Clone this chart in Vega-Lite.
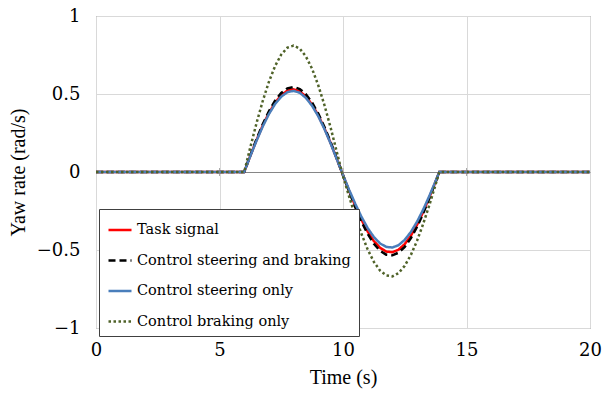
{
  "$schema": "https://vega.github.io/schema/vega-lite/v6.json",
  "width": 494,
  "height": 312,
  "autosize": {"type": "none"},
  "padding": {"left": 96, "top": 16, "right": 13, "bottom": 69},
  "config": {
    "font": "Liberation Serif",
    "view": {"stroke": "#6d6d6d", "strokeWidth": 1},
    "legend": {
      "orient": "none",
      "legendX": 3,
      "legendY": 193,
      "strokeColor": "#404040",
      "fillColor": "#ffffff",
      "padding": 8,
      "labelFontSize": 14.5,
      "labelColor": "#000000",
      "labelFont": "DejaVu Serif",
      "symbolType": "stroke",
      "symbolSize": 529,
      "symbolStrokeWidth": 2.5,
      "rowPadding": 10.5,
      "labelOffset": 4,
      "labelLimit": 400
    }
  },
  "layer": [
    {
      "data": {
        "values": [
          {"t": 0, "Task signal": 0, "Control steering and braking": 0, "Control steering only": 0, "Control braking only": 0},
          {"t": 6, "Task signal": 0, "Control steering and braking": 0, "Control steering only": 0, "Control braking only": 0},
          {"t": 6.25, "Task signal": 0.105, "Control steering and braking": 0.108, "Control steering only": 0.103, "Control braking only": 0.16},
          {"t": 6.5, "Task signal": 0.205, "Control steering and braking": 0.211, "Control steering only": 0.201, "Control braking only": 0.314},
          {"t": 6.75, "Task signal": 0.298, "Control steering and braking": 0.306, "Control steering only": 0.292, "Control braking only": 0.455},
          {"t": 7, "Task signal": 0.378, "Control steering and braking": 0.389, "Control steering only": 0.371, "Control braking only": 0.578},
          {"t": 7.25, "Task signal": 0.444, "Control steering and braking": 0.457, "Control steering only": 0.436, "Control braking only": 0.679},
          {"t": 7.5, "Task signal": 0.493, "Control steering and braking": 0.507, "Control steering only": 0.483, "Control braking only": 0.753},
          {"t": 7.75, "Task signal": 0.522, "Control steering and braking": 0.536, "Control steering only": 0.512, "Control braking only": 0.797},
          {"t": 8, "Task signal": 0.53, "Control steering and braking": 0.545, "Control steering only": 0.52, "Control braking only": 0.81},
          {"t": 8.25, "Task signal": 0.517, "Control steering and braking": 0.532, "Control steering only": 0.508, "Control braking only": 0.791},
          {"t": 8.5, "Task signal": 0.484, "Control steering and braking": 0.498, "Control steering only": 0.475, "Control braking only": 0.74},
          {"t": 8.75, "Task signal": 0.432, "Control steering and braking": 0.445, "Control steering only": 0.424, "Control braking only": 0.661},
          {"t": 9, "Task signal": 0.363, "Control steering and braking": 0.374, "Control steering only": 0.357, "Control braking only": 0.555},
          {"t": 9.25, "Task signal": 0.28, "Control steering and braking": 0.288, "Control steering only": 0.275, "Control braking only": 0.428},
          {"t": 9.5, "Task signal": 0.186, "Control steering and braking": 0.191, "Control steering only": 0.182, "Control braking only": 0.284},
          {"t": 9.75, "Task signal": 0.084, "Control steering and braking": 0.086, "Control steering only": 0.082, "Control braking only": 0.128},
          {"t": 10, "Task signal": -0.02, "Control steering and braking": -0.021, "Control steering only": -0.019, "Control braking only": -0.027},
          {"t": 10.25, "Task signal": -0.122, "Control steering and braking": -0.126, "Control steering only": -0.115, "Control braking only": -0.158},
          {"t": 10.5, "Task signal": -0.218, "Control steering and braking": -0.227, "Control steering only": -0.205, "Control braking only": -0.284},
          {"t": 10.75, "Task signal": -0.306, "Control steering and braking": -0.318, "Control steering only": -0.288, "Control braking only": -0.398},
          {"t": 11, "Task signal": -0.382, "Control steering and braking": -0.397, "Control steering only": -0.36, "Control braking only": -0.497},
          {"t": 11.25, "Task signal": -0.443, "Control steering and braking": -0.46, "Control steering only": -0.417, "Control braking only": -0.576},
          {"t": 11.5, "Task signal": -0.486, "Control steering and braking": -0.505, "Control steering only": -0.458, "Control braking only": -0.632},
          {"t": 11.75, "Task signal": -0.51, "Control steering and braking": -0.53, "Control steering only": -0.48, "Control braking only": -0.663},
          {"t": 12, "Task signal": -0.514, "Control steering and braking": -0.534, "Control steering only": -0.484, "Control braking only": -0.669},
          {"t": 12.25, "Task signal": -0.498, "Control steering and braking": -0.517, "Control steering only": -0.469, "Control braking only": -0.648},
          {"t": 12.5, "Task signal": -0.462, "Control steering and braking": -0.48, "Control steering only": -0.435, "Control braking only": -0.601},
          {"t": 12.75, "Task signal": -0.408, "Control steering and braking": -0.424, "Control steering only": -0.384, "Control braking only": -0.531},
          {"t": 13, "Task signal": -0.338, "Control steering and braking": -0.351, "Control steering only": -0.318, "Control braking only": -0.44},
          {"t": 13.25, "Task signal": -0.255, "Control steering and braking": -0.264, "Control steering only": -0.24, "Control braking only": -0.331},
          {"t": 13.5, "Task signal": -0.161, "Control steering and braking": -0.167, "Control steering only": -0.152, "Control braking only": -0.21},
          {"t": 13.75, "Task signal": -0.061, "Control steering and braking": -0.064, "Control steering only": -0.058, "Control braking only": -0.08},
          {"t": 13.9, "Task signal": 0, "Control steering and braking": 0, "Control steering only": 0, "Control braking only": 0},
          {"t": 20, "Task signal": 0, "Control steering and braking": 0, "Control steering only": 0, "Control braking only": 0}
        ]
      },
      "transform": [
        {"fold": ["Task signal", "Control steering and braking", "Control steering only", "Control braking only"], "as": ["series", "y"]}
      ],
      "mark": {"type": "line", "strokeWidth": 2.5, "clip": true},
      "encoding": {
        "x": {
          "field": "t", "type": "quantitative",
          "scale": {"domain": [0, 20], "nice": false},
          "axis": {
            "title": "Time (s)",
            "values": [0, 5, 10, 15, 20],
            "grid": true, "gridColor": "#d9d9d9",
            "domain": false, "ticks": false,
            "labelFont": "DejaVu Serif",
            "labelFontSize": 18, "labelColor": "#000000", "labelPadding": 13,
            "labelFlush": false, "labelOverlap": false,
            "titleFontSize": 20, "titleFontWeight": "normal", "titleColor": "#000000", "titlePadding": 8
          }
        },
        "y": {
          "field": "y", "type": "quantitative",
          "scale": {"domain": [-1, 1], "nice": false},
          "axis": {
            "title": "Yaw rate (rad/s)",
            "values": [-1, -0.5, 0, 0.5, 1],
            "format": "~g",
            "grid": true,
            "gridColor": {"condition": {"test": "datum.value === 0", "value": "#868686"}, "value": "#d9d9d9"},
            "domain": false, "ticks": false,
            "labelFont": "DejaVu Serif",
            "labelFontSize": 18, "labelColor": "#000000", "labelPadding": 16,
            "labelFlush": false, "labelOverlap": false,
            "titleFontSize": 20, "titleFontWeight": "normal", "titleColor": "#000000", "titlePadding": 8
          }
        },
        "color": {
          "field": "series", "type": "nominal",
          "scale": {
            "domain": ["Task signal", "Control steering and braking", "Control steering only", "Control braking only"],
            "range": ["#ff0000", "#000000", "#4a7ebb", "#4f6228"]
          },
          "legend": {"title": null}
        },
        "strokeDash": {
          "field": "series", "type": "nominal",
          "scale": {
            "domain": ["Task signal", "Control steering and braking", "Control steering only", "Control braking only"],
            "range": [[1, 0], [7, 4], [1, 0], [2.5, 2.5]]
          },
          "legend": {"title": null}
        }
      }
    },
    {
      "data": {"values": [{"t": 5}, {"t": 10}, {"t": 15}]},
      "mark": {"type": "tick", "orient": "vertical", "color": "#868686", "size": 8, "thickness": 1},
      "encoding": {
        "x": {"field": "t", "type": "quantitative"},
        "y": {"datum": 0}
      }
    }
  ]
}
